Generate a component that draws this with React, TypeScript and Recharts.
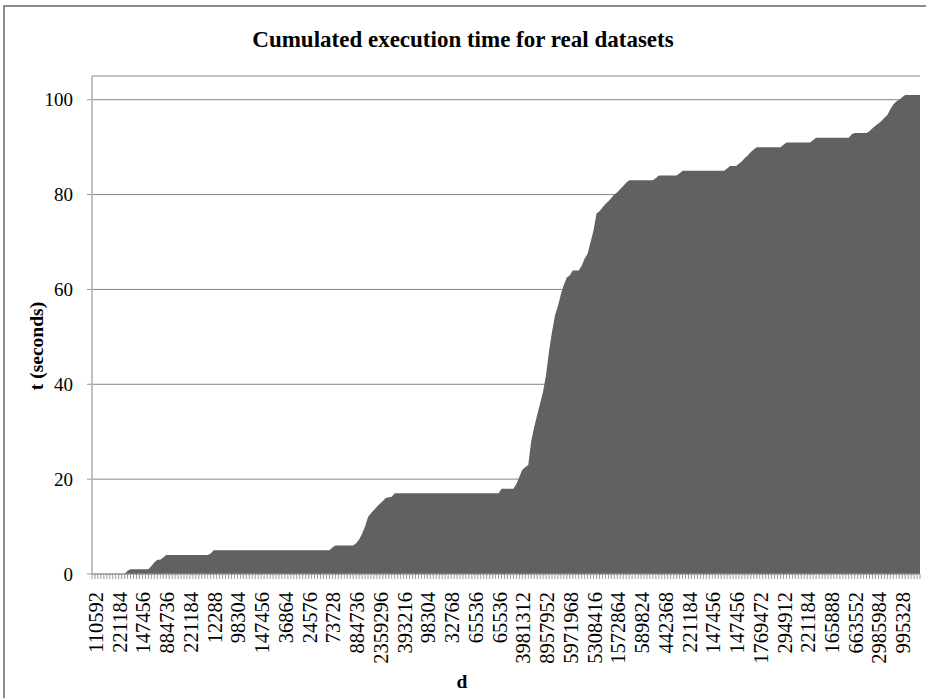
import { AreaChart, Area, XAxis, YAxis, CartesianGrid } from 'recharts';

// labels shown on every 8th category of d
const tickLabels = [
  '110592', '221184', '147456', '884736', '221184', '12288', '98304', '147456',
  '36864', '24576', '73728', '884736', '2359296', '393216', '98304', '32768',
  '65536', '65536', '3981312', '8957952', '5971968', '5308416', '1572864', '589824',
  '442368', '221184', '147456', '147456', '1769472', '294912', '221184', '165888',
  '663552', '2985984', '995328'
];

// cumulated time t (seconds), one value per dataset
const seconds = [
  0, 0, 0, 0, 0, 0, 0, 0, 0, 0, 0, 0, 0.7, 1, 1, 1, 1, 1, 1, 1,
  1.7, 2.4, 3, 3, 3.5, 4, 4, 4, 4, 4, 4, 4, 4, 4, 4, 4, 4, 4, 4, 4,
  4.3, 5, 5, 5, 5, 5, 5, 5, 5, 5, 5, 5, 5, 5, 5, 5, 5, 5, 5, 5,
  5, 5, 5, 5, 5, 5, 5, 5, 5, 5, 5, 5, 5, 5, 5, 5, 5, 5, 5, 5,
  5, 5.6, 6, 6, 6, 6, 6, 6, 6, 6.5, 7.3, 8.5, 10, 12, 12.8, 13.5, 14.2, 14.8, 15.4, 16,
  16.2, 16.3, 17, 17, 17, 17, 17, 17, 17, 17, 17, 17, 17, 17, 17, 17, 17, 17, 17, 17,
  17, 17, 17, 17, 17, 17, 17, 17, 17, 17, 17, 17, 17, 17, 17, 17, 17, 17, 18, 18,
  18, 18, 18, 19, 20.5, 22, 22.5, 23, 28, 31, 33.5, 36, 38.5, 42, 47, 51, 54.5, 56.5, 59, 61,
  62.5, 63, 64, 64, 64, 65, 66.5, 67.5, 70, 72.5, 76, 76.5, 77.3, 78, 78.6, 79.3, 80, 80.5, 81.2, 81.8,
  82.5, 83, 83, 83, 83, 83, 83, 83, 83, 83, 83.5, 84, 84, 84, 84, 84, 84, 84, 84.5, 85,
  85, 85, 85, 85, 85, 85, 85, 85, 85, 85, 85, 85, 85, 85, 85.5, 86, 86, 86, 86.5, 87,
  87.7, 88.3, 89, 89.5, 90, 90, 90, 90, 90, 90, 90, 90, 90, 90.5, 91, 91, 91, 91, 91, 91,
  91, 91, 91, 91.5, 92, 92, 92, 92, 92, 92, 92, 92, 92, 92, 92, 92, 92.7, 93, 93, 93,
  93, 93, 93.4, 94, 94.5, 95, 95.5, 96.2, 96.8, 98, 99, 99.6, 100, 100.5, 101, 101, 101, 101, 101, 101
];

const yTicks = [0, 20, 40, 60, 80, 100];

const data = seconds.map((t, i) => ({ i, t }));

const serif = 'Liberation Serif, DejaVu Serif, serif';

const XTick = ({ x, y, payload }: any) => {
  const i = payload.value;
  if (i % 8 !== 0) return <g />;
  return (
    <text
      transform={`translate(${x + 11},${y + 11}) rotate(-90)`}
      textAnchor="end"
      fontFamily={serif}
      fontSize={20.5}
      fill="#000"
    >
      {tickLabels[i / 8]}
    </text>
  );
};

export default function App() {
  return (
    <div style={{ position: 'fixed', left: 0, top: 0, width: 926, height: 698, overflow: 'hidden', background: '#fff' }}>
      <div style={{
        position: 'absolute', left: 3, top: 5, width: 960, height: 760,
        border: '2px solid #8c8c8c', boxSizing: 'border-box'
      }} />
      <div style={{
        position: 'absolute', left: 0, width: 926, top: 27, textAlign: 'center',
        fontFamily: serif, fontWeight: 'bold', fontSize: 23, color: '#000'
      }}>
        Cumulated execution time for real datasets
      </div>
      <div style={{
        position: 'absolute', left: 37, top: 346, transform: 'translate(-50%, -50%) rotate(-90deg)',
        fontFamily: serif, fontWeight: 'bold', fontSize: 19.5, whiteSpace: 'nowrap', color: '#000'
      }}>
        t (seconds)
      </div>
      <div style={{
        position: 'absolute', left: 462, top: 682, transform: 'translate(-50%, -50%)',
        fontFamily: serif, fontWeight: 'bold', fontSize: 19.5, color: '#000'
      }}>
        d
      </div>
      <div style={{ position: 'absolute', left: 0, top: 0 }}>
        <AreaChart
          width={926}
          height={698}
          data={data}
          margin={{ top: 76, right: 6, bottom: 24, left: 32 }}
        >
          <CartesianGrid horizontal vertical={false} stroke="#868686" />
          <XAxis
            dataKey="i"
            interval={0}
            height={100}
            tickSize={5}
            tick={XTick}
            axisLine={{ stroke: '#999' }}
            tickLine={{ stroke: '#999' }}
          />
          <YAxis
            width={60}
            domain={[0, 105]}
            ticks={yTicks}
            tickSize={5}
            tickMargin={14}
            axisLine={{ stroke: '#c0c0c0', strokeWidth: 2 }}
            tickLine={{ stroke: '#999' }}
            tick={{ fontFamily: serif, fontSize: 19, fill: '#000' }}
          />
          <Area
            type="linear"
            dataKey="t"
            stroke="none"
            fill="#616161"
            fillOpacity={1}
            isAnimationActive={false}
          />
        </AreaChart>
      </div>
    </div>
  );
}
